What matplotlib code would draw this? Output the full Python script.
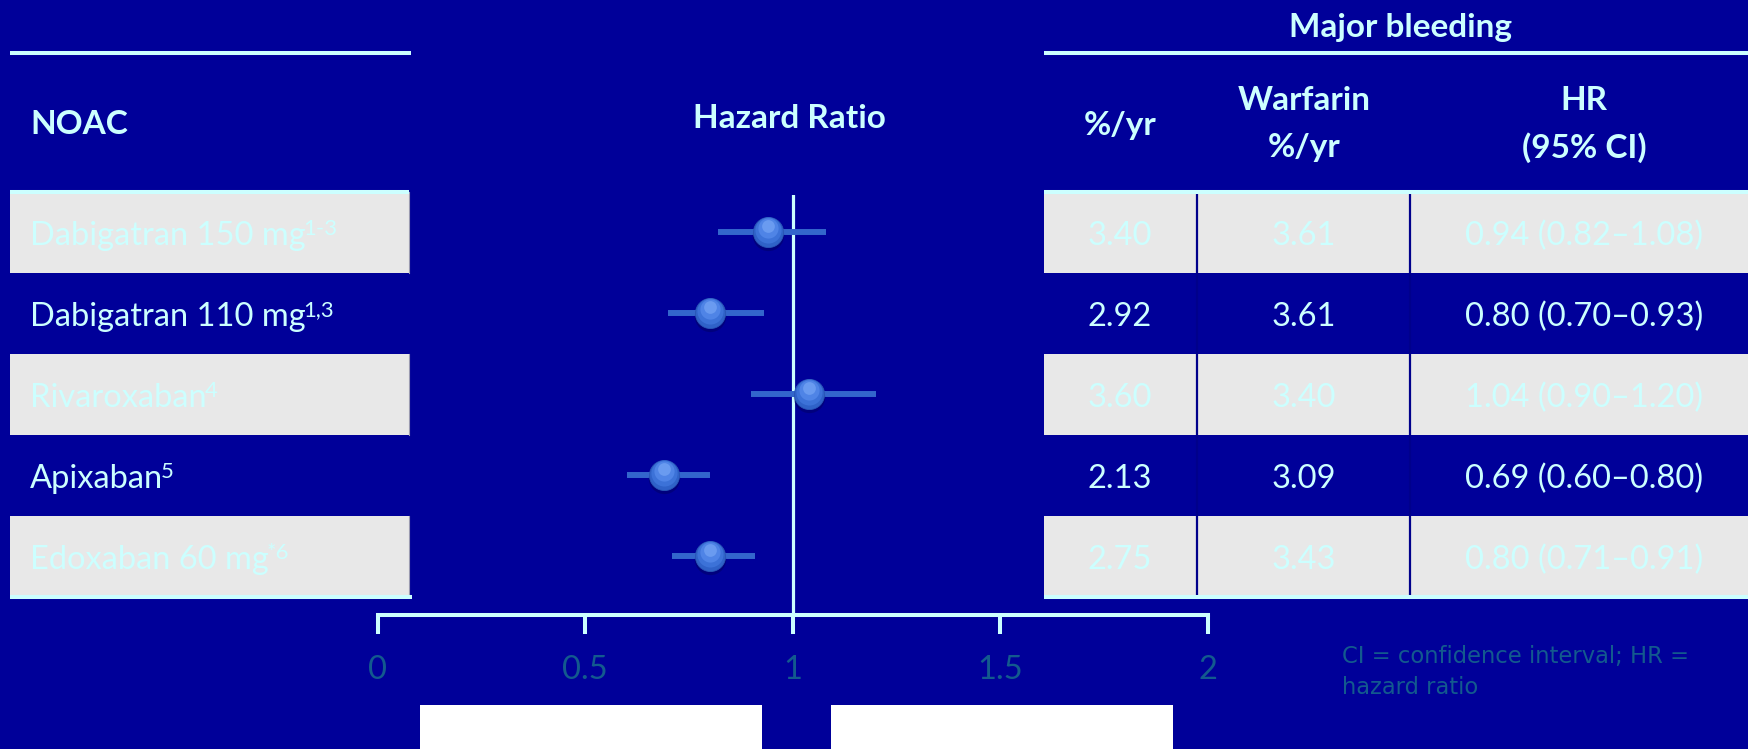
import matplotlib
matplotlib.use("Agg")
import matplotlib.pyplot as plt
from matplotlib.patches import Rectangle
from matplotlib.transforms import blended_transform_factory, offset_copy

# ---------------- data ----------------
drugs = ["Dabigatran 150 mg", "Dabigatran 110 mg", "Rivaroxaban", "Apixaban", "Edoxaban 60 mg"]
refs = ["1-3", "1,3", "4", "5", "*6"]
noac_rate = [3.40, 2.92, 3.60, 2.13, 2.75]
warfarin_rate = [3.61, 3.61, 3.40, 3.09, 3.43]
hr = [0.94, 0.80, 1.04, 0.69, 0.80]
ci_low = [0.82, 0.70, 0.90, 0.60, 0.71]
ci_high = [1.08, 0.93, 1.20, 0.80, 0.91]
xticks = [0, 0.5, 1, 1.5, 2]
xtick_labels = ["0", "0.5", "1", "1.5", "2"]
shaded_rows = [0, 2, 4]

# ---------------- style ----------------
W, H = 1748, 749
BG = "#000099"
CYAN = "#CCFFFF"
GREY = "#E8E8E8"
TEAL = "#135A8E"
CI_COL = "#3366CC"
FONT = ["Lato", "DejaVu Sans"]
FS = 23.5
FSB = 24
TXT_DY = 0.05  # small downward nudge of row text (row units)

plt.rcParams["font.family"] = FONT

fig = plt.figure(figsize=(W / 100, H / 100), dpi=100)
fig.patch.set_facecolor(BG)

# background / table layer in pixel coordinates
bg = fig.add_axes([0, 0, 1, 1])
bg.set_xlim(0, W)
bg.set_ylim(H, 0)
bg.axis("off")
bg.set_facecolor("none")

# forest axes
x0_px, x1_px = 377.5, 1208
top_px, bot_px = 195, 615
fax = fig.add_axes([x0_px / W, 1 - bot_px / H, (x1_px - x0_px) / W, (bot_px - top_px) / H])
fax.set_facecolor("none")
row0_px, pitch = 232, 81
fax.set_xlim(0, 2)
fax.set_ylim((bot_px - row0_px) / pitch, (top_px - row0_px) / pitch)

# blended: x in pixels, y in row units
blend = blended_transform_factory(bg.transData, fax.transData)

# ---------- header ----------
for xa, xb in [(10, 411), (1044, W)]:
    bg.plot([xa, xb], [53, 53], color=CYAN, lw=2.9, solid_capstyle="butt")
bg.text(1401, 27, "Major bleeding", color=CYAN, fontsize=FSB, fontweight="bold", ha="center", va="center")
bg.text(30, 125, "NOAC", color=CYAN, fontsize=FSB, fontweight="bold", ha="left", va="center")
bg.text(789, 119, "Hazard Ratio", color=CYAN, fontsize=FSB, fontweight="bold", ha="center", va="center")
bg.text(1120, 125, "%/yr", color=CYAN, fontsize=FSB, fontweight="bold", ha="center", va="center")
bg.text(1304, 100, "Warfarin", color=CYAN, fontsize=FSB, fontweight="bold", ha="center", va="center")
bg.text(1304, 148, "%/yr", color=CYAN, fontsize=FSB, fontweight="bold", ha="center", va="center")
bg.text(1584, 100, "HR", color=CYAN, fontsize=FSB, fontweight="bold", ha="center", va="center")
bg.text(1584, 148, "(95% CI)", color=CYAN, fontsize=FSB, fontweight="bold", ha="center", va="center")

# ---------- shaded rows ----------
for i in shaded_rows:
    bg.add_patch(Rectangle((10, i - 0.5), 399, 1.0, transform=blend, facecolor=GREY,
                           edgecolor="none", zorder=1))
    bg.plot([409, 409], [i - 0.5, i + 0.5], transform=blend, color="#9A9AB0", lw=0.8, zorder=1.5)
    bg.add_patch(Rectangle((1044, i - 0.5), W - 1044, 1.0, transform=blend, facecolor=GREY,
                           edgecolor="none", zorder=1))

# column dividers
for xd in [1197, 1410]:
    bg.plot([xd, xd], [-0.47, len(drugs) - 0.5], transform=blend, color="#00008B", lw=1.6, zorder=2)

# cyan borders top and bottom of the table body
for xa, xb in [(10, 409), (1044, W)]:
    bg.plot([xa, xb], [-0.5, -0.5], transform=blend, color=CYAN, lw=2.9, solid_capstyle="butt", zorder=3)
for xa, xb in [(10, 412), (1044, W)]:
    bg.plot([xa, xb], [len(drugs) - 0.5, len(drugs) - 0.5], transform=blend, color=CYAN, lw=2.9,
            solid_capstyle="butt", zorder=3)

# ---------- row texts ----------
for i, (d, r) in enumerate(zip(drugs, refs)):
    yt = i + TXT_DY
    t = bg.text(30, yt, d, transform=blend, color=CYAN, fontsize=FS, ha="left", va="center", zorder=4)
    bg.annotate(r, xy=(1, 1), xycoords=t, xytext=(-1.5, 1.5), textcoords="offset points",
                color=CYAN, fontsize=FS * 0.68, ha="left", va="top", zorder=4)
    bg.text(1120, yt, f"{noac_rate[i]:.2f}", transform=blend, color=CYAN, fontsize=FS,
            ha="center", va="center", zorder=4)
    bg.text(1304, yt, f"{warfarin_rate[i]:.2f}", transform=blend, color=CYAN, fontsize=FS,
            ha="center", va="center", zorder=4)
    bg.text(1584, yt, f"{hr[i]:.2f} ({ci_low[i]:.2f}\u2013{ci_high[i]:.2f})", transform=blend,
            color=CYAN, fontsize=FS, ha="center", va="center", zorder=4)

# ---------- forest plot ----------
rows = list(range(len(drugs)))
fax.axvline(1, color=CYAN, lw=2.3, zorder=1)
fax.hlines(rows, ci_low, ci_high, color=CI_COL, lw=4.3, zorder=2)
ms = 470
shadow_tr = offset_copy(fax.transData, fig=fig, x=0, y=-3, units="dots")
fax.scatter(hr, rows, s=ms * 1.08, color="#000055", alpha=0.4, transform=shadow_tr, zorder=3, linewidths=0)
fax.scatter(hr, rows, s=ms, color="#2F62C8", edgecolors="#2A58B8", linewidths=0.6, zorder=4)
hl1 = offset_copy(fax.transData, fig=fig, x=0, y=2, units="dots")
fax.scatter(hr, rows, s=ms * 0.75, color="#3C72D8", transform=hl1, zorder=5, linewidths=0)
hl2 = offset_copy(fax.transData, fig=fig, x=0, y=4, units="dots")
fax.scatter(hr, rows, s=ms * 0.45, color="#4F84E6", transform=hl2, zorder=6, linewidths=0)
hl3 = offset_copy(fax.transData, fig=fig, x=0, y=6, units="dots")
fax.scatter(hr, rows, s=ms * 0.18, color="#6A9BF0", transform=hl3, zorder=7, linewidths=0)

for side in ["top", "left", "right"]:
    fax.spines[side].set_visible(False)
fax.spines["bottom"].set_color(CYAN)
fax.spines["bottom"].set_linewidth(2.9)
fax.set_yticks([])
fax.set_xticks(xticks)
fax.set_xticklabels(xtick_labels)
fax.tick_params(axis="x", direction="out", length=13.7, width=2.9, color=CYAN,
                labelcolor=TEAL, labelsize=FS, pad=15)

# ---------- footnote ----------
bg.text(1342, 657, "CI = confidence interval; HR =", color=TEAL, fontsize=16.3,
        family="DejaVu Sans", ha="left", va="center")
bg.text(1342, 688, "hazard ratio", color=TEAL, fontsize=16.3, family="DejaVu Sans",
        ha="left", va="center")

# ---------- white boxes ----------
for xa, xb in [(420, 762), (831, 1173)]:
    bg.add_patch(Rectangle((xa, 705), xb - xa, H - 705, facecolor="white", edgecolor="none", zorder=1))

fig.savefig("out.png", dpi=100, facecolor=BG)
